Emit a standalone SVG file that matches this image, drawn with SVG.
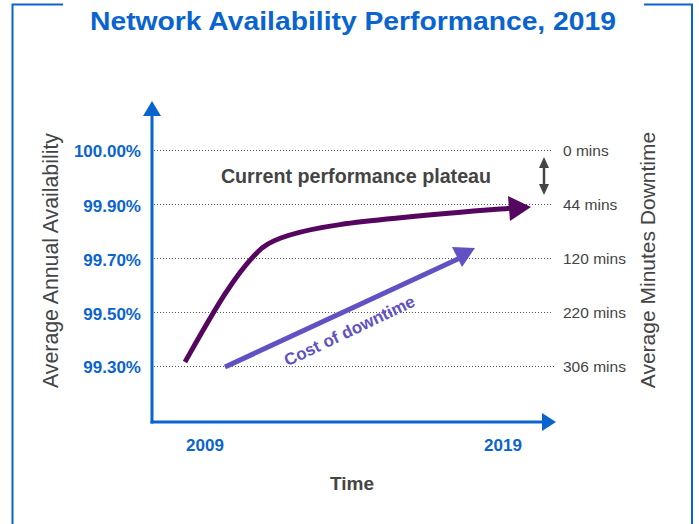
<svg xmlns="http://www.w3.org/2000/svg" width="699" height="524" viewBox="0 0 699 524">
<style>
.blue{fill:#0a64d0}
.grid{stroke:#555;stroke-width:1;stroke-dasharray:1 2;fill:none}
.ylab{font-family:"Liberation Sans",Arial,sans-serif;font-weight:bold;font-size:17px;fill:#0a64d0;text-anchor:end}
.rlab{font-family:"Liberation Sans",Arial,sans-serif;font-size:15.5px;fill:#444;text-anchor:start}
.axt{font-family:"Liberation Sans",Arial,sans-serif;font-size:21.3px;fill:#444;text-anchor:middle}
.xlab{font-family:"Liberation Sans",Arial,sans-serif;font-weight:bold;font-size:17px;fill:#0a64d0;text-anchor:middle}
</style>
<rect width="699" height="524" fill="#fff"/>
<g id="frame" fill="none" stroke="#0a64d0" stroke-width="2">
<path d="M63,4.5 H12.5 V524"/>
<path d="M644,4.5 H692 V524"/>
</g>
<g id="title">
<text x="353" y="30" font-family="Liberation Sans,Arial,sans-serif" font-weight="bold" font-size="26.5" fill="#0a64d0" text-anchor="middle" textLength="526" lengthAdjust="spacingAndGlyphs">Network Availability Performance, 2019</text>
</g>
<g id="gridlines">
<line class="grid" x1="154" y1="150.5" x2="553" y2="150.5"/>
<line class="grid" x1="154" y1="204.5" x2="553" y2="204.5"/>
<line class="grid" x1="154" y1="258.5" x2="553" y2="258.5"/>
<line class="grid" x1="154" y1="312.5" x2="553" y2="312.5"/>
<line class="grid" x1="154" y1="366.5" x2="556" y2="366.5"/>
</g>
<g id="axes">
<line x1="152" y1="114" x2="152" y2="423.5" stroke="#0a64d0" stroke-width="3"/>
<polygon class="blue" points="152,101 143,116 161,116"/>
<line x1="150.5" y1="422" x2="546" y2="422" stroke="#0a64d0" stroke-width="3"/>
<polygon class="blue" points="556,422 542,413 542,431"/>
</g>
<g id="y-labels">
<text class="ylab" x="141" y="157">100.00%</text>
<text class="ylab" x="141" y="211.5">99.90%</text>
<text class="ylab" x="141" y="266">99.70%</text>
<text class="ylab" x="141" y="320">99.50%</text>
<text class="ylab" x="141" y="373">99.30%</text>
</g>
<g id="right-labels">
<text class="rlab" x="563" y="156">0 mins</text>
<text class="rlab" x="563" y="210">44 mins</text>
<text class="rlab" x="563" y="264">120 mins</text>
<text class="rlab" x="563" y="318">220 mins</text>
<text class="rlab" x="563" y="372">306 mins</text>
</g>
<g id="axis-titles">
<text class="axt" transform="translate(58,260.5) rotate(-90)">Average Annual Availability</text>
<text class="axt" transform="translate(655,260) rotate(-90)" style="font-size:21px">Average Minutes Downtime</text>
</g>
<g id="x-labels">
<text class="xlab" x="205" y="451">2009</text>
<text class="xlab" x="503" y="451">2019</text>
<text x="352" y="490" font-family="Liberation Sans,Arial,sans-serif" font-weight="bold" font-size="19" fill="#444" text-anchor="middle">Time</text>
</g>
<g id="plateau-label">
<text x="356" y="183" font-family="Liberation Sans,Arial,sans-serif" font-weight="bold" font-size="19.7" fill="#444" text-anchor="middle">Current performance plateau</text>
</g>
<g id="plateau-arrow">
<line x1="544" y1="166" x2="544" y2="186" stroke="#444" stroke-width="2.5"/>
<polygon points="544,157 539,168 549,168" fill="#444"/>
<polygon points="544,195 539,184 549,184" fill="#444"/>
</g>
<g id="connectors">
<g id="availability-curve">
<path d="M185,362 C210,318 235,272 262,248 C290,225 380,219 512,208" fill="none" stroke="#55065f" stroke-width="5"/>
<polygon points="531,207 508,196 510,221" fill="#55065f"/>
</g>
<g id="cost-arrow">
<line x1="225" y1="367" x2="460" y2="258" stroke="#6152c4" stroke-width="5"/>
<polygon points="475,248 452,247 462,267" fill="#6152c4"/>
</g>
</g>
<g id="cost-label">
<text transform="translate(352,336) rotate(-25.4)" font-family="Liberation Sans,Arial,sans-serif" font-weight="bold" font-size="17" fill="#6152c4" text-anchor="middle">Cost of downtime</text>
</g>
</svg>
